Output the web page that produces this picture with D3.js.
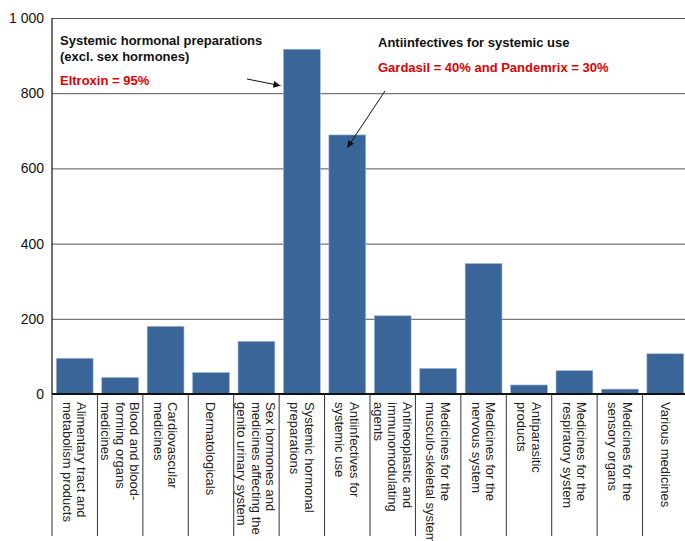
<!DOCTYPE html>
<html>
<head>
<meta charset="utf-8">
<script src="https://cdn.jsdelivr.net/npm/d3@7"></script>
<style>
  body { margin: 0; background: #fff; }
  svg { display: block; font-family: "Liberation Sans", Arial, sans-serif; }
</style>
</head>
<body>
<div id="chart"></div>
<script>
// category names, "\n" marks where the label wraps
const categories = [
    "Alimentary tract and\nmetabolism products",
    "Blood and blood-\nforming organs\nmedicines",
    "Cardiovascular\nmedicines",
    "Dermatologicals",
    "Sex hormones and\nmedicines affecting the\ngenito urinary system",
    "Systemic hormonal\npreparations",
    "Antiinfectives for\nsystemic use",
    "Antineoplastic and\nimmunomodulating\nagents",
    "Medicines for the\nmusculo-skeletal system",
    "Medicines for the\nnervous system",
    "Antiparasitic\nproducts",
    "Medicines for the\nrespiratory system",
    "Medicines for the\nsensory organs",
    "Various medicines"
]
const values = [95, 44, 180, 57, 140, 917, 689, 208, 68, 347, 24, 62, 13, 107]
const yTicks = [0, 200, 400, 600, 800, 1000]

const width = 685, height = 541
const margin = {left: 52, top: 18}
const plotRight = 688, baseY = 394

const svg = d3.select("#chart").append("svg")
    .attr("width", width)
    .attr("height", height)

const x = d3.scaleBand()
    .domain(categories)
    .range([margin.left, plotRight])
    .paddingInner(0.19)
    .paddingOuter(0.095)

const y = d3.scaleLinear()
    .domain([0, 1000])
    .range([baseY, margin.top])

const fmt = d3.formatLocale({decimal: ".", thousands: " ", grouping: [3], currency: ["", ""]}).format(",")

// gridlines + tick labels
const yAxis = svg.append("g")
    .attr("transform", "translate(" + margin.left + ",0)")
    .call(d3.axisLeft(y)
        .tickValues(yTicks)
        .tickSize(-(plotRight - margin.left))
        .tickPadding(8)
        .tickFormat(fmt))
yAxis.select(".domain").remove()
yAxis.selectAll(".tick line").attr("stroke", "#555").attr("stroke-width", 1)
yAxis.selectAll(".tick text")
    .attr("font-size", 14)
    .attr("fill", "#111")
    .attr("font-family", "Liberation Sans, Arial, sans-serif")

// bars
svg.selectAll("rect.bar")
    .data(values)
    .enter().append("rect")
    .attr("class", "bar")
    .attr("x", (d, i) => x(categories[i]))
    .attr("y", d => y(d))
    .attr("width", x.bandwidth())
    .attr("height", d => y(0) - y(d))
    .attr("fill", "#3a6598")
    .attr("stroke", "#9fb6d3")
    .attr("stroke-width", 0.6)

// axes lines
svg.append("line")
    .attr("x1", margin.left).attr("x2", margin.left)
    .attr("y1", y(1000)).attr("y2", baseY)
    .attr("stroke", "#111").attr("stroke-width", 1.2)
svg.append("line")
    .attr("x1", margin.left).attr("x2", plotRight)
    .attr("y1", baseY).attr("y2", baseY)
    .attr("stroke", "#111").attr("stroke-width", 2)

// category separators below the axis
const step = x.step()
const seps = d3.range(categories.length + 1).map(i => margin.left + i * step)
svg.selectAll("line.sep")
    .data(seps)
    .enter().append("line")
    .attr("class", "sep")
    .attr("x1", d => d).attr("x2", d => d)
    .attr("y1", baseY).attr("y2", 536)
    .attr("stroke", "#333").attr("stroke-width", 1)

// rotated category labels
const fs = 13, lh = 14.5
categories.forEach((c, i) => {
    const lines = c.split("\n")
    const cx = x(c) + x.bandwidth() / 2
    const t = svg.append("text")
        .attr("transform", "translate(" + cx + ",402) rotate(90)")
        .attr("font-size", fs)
        .attr("fill", "#222")
    lines.forEach((l, k) => {
        t.append("tspan")
            .attr("x", 0)
            .attr("y", (k - (lines.length - 1) / 2) * lh + fs * 0.35)
            .text(l)
    })
})

// annotations
const defs = svg.append("defs")
defs.append("marker")
    .attr("id", "arrow")
    .attr("viewBox", "0 0 10 10")
    .attr("refX", 10).attr("refY", 5)
    .attr("markerWidth", 9).attr("markerHeight", 7)
    .attr("markerUnits", "userSpaceOnUse")
    .attr("orient", "auto")
    .append("path").attr("d", "M0,0 L10,5 L0,10 Z").attr("fill", "#111")

const note = (txt, tx, ty, color) => svg.append("text")
    .text(txt)
    .attr("x", tx).attr("y", ty)
    .attr("font-size", 13)
    .attr("font-weight", "bold")
    .attr("fill", color)

note("Systemic hormonal preparations", 60, 45, "#111")
note("(excl. sex hormones)", 60, 61, "#111")
note("Eltroxin = 95%", 60, 85, "#e00000")
note("Antiinfectives for systemic use", 378, 47, "#111")
note("Gardasil = 40% and Pandemrix = 30%", 378, 72, "#e00000")

svg.append("line")
    .attr("x1", 247).attr("y1", 79)
    .attr("x2", x(categories[5]) - 3).attr("y2", y(820))
    .attr("stroke", "#111").attr("stroke-width", 1)
    .attr("marker-end", "url(#arrow)")
svg.append("line")
    .attr("x1", 385).attr("y1", 91)
    .attr("x2", x(categories[6]) + x.bandwidth() / 2).attr("y2", y(655))
    .attr("stroke", "#111").attr("stroke-width", 1)
    .attr("marker-end", "url(#arrow)")
</script>
</body>
</html>
